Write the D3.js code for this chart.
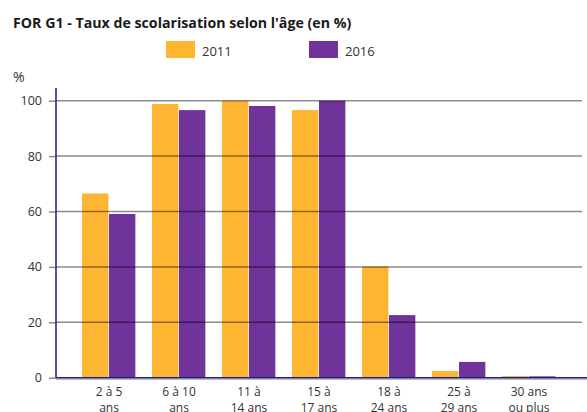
<!DOCTYPE html>
<html><head><meta charset="utf-8">
<script src="https://cdn.jsdelivr.net/npm/d3@7/dist/d3.min.js"></script>
<style>body{margin:0;background:#fff}svg{display:block;font-family:"Open Sans",sans-serif}</style>
</head><body>
<svg id="c" width="587" height="412"></svg>
<script>
const categories = [["2 à 5","ans"],["6 à 10","ans"],["11 à","14 ans"],["15 à","17 ans"],["18 à","24 ans"],["25 à","29 ans"],["30 ans","ou plus"]];
const series = ["2011","2016"];
const values2011 = [66.5, 98.8, 100, 96.6, 40.2, 2.4, 0.6];
const values2016 = [59.1, 96.6, 98.1, 100, 22.6, 5.7, 0.5];
const yTicks = [0,20,40,60,80,100];
const colors = ["#FDB532","#70339A"];

const svg = d3.select("#c");
const x = d3.scaleBand().domain(d3.range(categories.length)).range([74,564]).paddingInner(0.23).paddingOuter(0.115);
const xs = d3.scaleBand().domain(series).range([0, x.bandwidth()]);
const y = d3.scaleLinear().domain([0,100]).range([377.7,100.7]);

svg.append("text").attr("x",13).attr("y",27.5).attr("font-size",14.2).attr("font-weight","bold").attr("fill","#1a1a1a")
  .text("FOR G1 - Taux de scolarisation selon l'âge (en %)");

// legend
const leg = [{x:166},{x:309}];
series.forEach((s,i)=>{
  svg.append("rect").attr("x",leg[i].x).attr("y",41).attr("width",29).attr("height",17).attr("fill",colors[i]);
  svg.append("text").attr("x",leg[i].x+36).attr("y",55.5).attr("font-size",13).attr("fill","#333").text(s);
});

svg.append("text").attr("x",13).attr("y",82).attr("font-size",14).attr("fill","#333").text("%");

const data = [values2011, values2016];
const g = svg.append("g");
categories.forEach((c,i)=>{
  series.forEach((s,j)=>{
    const v = data[j][i];
    g.append("rect").attr("x",x(i)+xs(s)).attr("width",xs.bandwidth()-0.6)
      .attr("y",y(v)).attr("height",y(0)-y(v)).attr("fill",colors[j]);
  });
});

// gridlines on top
const ya = svg.append("g").attr("transform","translate(56,0)")
  .call(d3.axisLeft(y).tickValues(yTicks).tickSize(7).tickPadding(7));
ya.select(".domain").remove();
ya.selectAll("text").attr("font-size",12.5).attr("fill","#333").attr("font-family","Open Sans");
ya.selectAll("line").attr("stroke","#000").attr("stroke-opacity",0.45).attr("stroke-width",1.5);
svg.append("g").selectAll("line").data(yTicks.filter(d=>d>0)).join("line")
  .attr("x1",56).attr("x2",582).attr("y1",d=>y(d)).attr("y2",d=>y(d))
  .attr("stroke","#000").attr("stroke-opacity",0.45).attr("stroke-width",1.5);

// axes lines
svg.append("line").attr("x1",56).attr("x2",587).attr("y1",y(0)+1.5).attr("y2",y(0)+1.5).attr("stroke","#9a9ab5").attr("stroke-width",1);
svg.append("line").attr("x1",56).attr("x2",587).attr("y1",y(0)).attr("y2",y(0)).attr("stroke","#1e1e78").attr("stroke-width",1.5);
svg.append("line").attr("x1",56).attr("x2",56).attr("y1",88).attr("y2",y(0)).attr("stroke","#1e1e78").attr("stroke-width",1.5);

// x labels
const xl = svg.append("g");
categories.forEach((c,i)=>{
  const t = xl.append("text").attr("x",x(i)+x.bandwidth()/2).attr("y",396).attr("text-anchor","middle")
    .attr("font-size",12).attr("fill","#333");
  c.forEach((line,k)=>t.append("tspan").attr("x",x(i)+x.bandwidth()/2).attr("dy",k?15.5:0).text(line));
});
</script>
</body></html>
